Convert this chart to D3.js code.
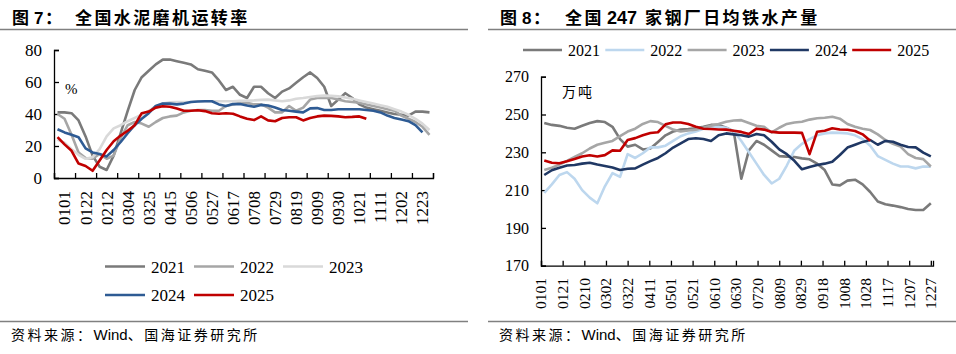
<!DOCTYPE html>
<html>
<head>
<meta charset="utf-8">
<script src="https://cdn.jsdelivr.net/npm/d3@7"></script>
<style>
  body { margin: 0; background: #fff; }
  svg text { fill: #000; }
</style>
</head>
<body>
<svg id="chart" width="956" height="354"></svg>
<script>
// ---- left chart: cement mill operating rate (%), weekly ----
const cementTicks = ["0101","0122","0212","0304","0325","0415","0506","0527","0617",
                     "0708","0729","0819","0909","0930","1021","1111","1202","1223"];
const cement2021 = [41,41,40.5,36,26,14,7,5,14,28,42,55,63,67,71,74,74,73,72,71,68,67,66,61,
                    55,57,52,50,57,57,53,50,54,56,59.5,63,66,62.5,57,45,49,53,50,46,44,43,42,41,
                    40,39.5,39,41.5,41.5,41];
const cement2022 = [40,37,27,16,12.5,12,15,12,14,25,33,35,34,32,35,37.5,38.5,39,41,42,42.5,42.5,
                    42,42,45,46,47,47,46,46,44,41,41,45,42,44,49,50,50,50,49,48,47.5,47,46,45,44,
                    43,42,39,37,35,32,27];
const cement2023 = [24,22,18,14.5,12,13,18,26,31,33,35.5,37.5,39.5,42,45,46.5,47.3,47.5,47.5,47.5,
                    48,48,48,48,48,48,48.2,48.3,48.5,48.8,49,48.5,48,48.5,49.5,50,50.6,51.2,51.5,
                    51.3,51,50.3,49.5,48.5,47.5,46.5,45.5,44.5,43,41.5,39.5,37,34,30];
const cement2024 = [30.5,28.5,27,25.5,18.5,16,15,13.5,17.5,22.5,28,33,37,40.5,45,46.5,46.5,46,46.5,
                    47.5,47.8,48,48,46,45,46.2,46.2,45.3,44.5,45.7,45.3,44,42.5,42,41.5,41,43.5,
                    43.7,42.5,42.5,43,43,43,43,42.5,42,41,39,37.5,36.5,35.5,33,28.5];
const cement2025 = [25.5,21,17,9,7.5,4.5,11,17.5,23,26.5,29.5,33,40.5,41.5,44,44.8,44.5,43.5,42,42,
                    42.3,41.8,40.5,40.2,40.5,40.2,38.5,37,36.2,38.5,36,35.5,37.5,38,38,36,37.5,
                    38.5,39,38.8,38.5,38,38.2,38.5,37];

// ---- right chart: 247 steel mills daily hot metal output (10k t), weekly ----
const ironTicks = ["0101","0121","0210","0302","0322","0411","0501","0521","0610","0630",
                   "0720","0809","0829","0918","1008","1028","1117","1207","1227"];
const iron2021 = [245.5,244.5,244,243,242.5,244,245.5,246.5,246,243.5,237,233,234,231.5,232,235.5,239,
                  241,242,242.3,242.7,243.5,244.5,244.5,243,241,216,231,236,234,231,228,227.7,
                  227.5,226.8,226.3,224,220.6,213,212.5,215,215.5,213,209,204,202.5,201.8,201,
                  200,199.5,199.5,203];
const iron2022 = [208.5,213,218,219.5,216,210,206,203,212,219,217,229,227,229.5,232.6,232.6,233.5,
                  236,238.5,240,241,242.5,243.3,243.5,243,241,236,230,224,218,213.5,216,223,231,
                  234.5,237,239,240,240.4,240.3,240,239,237,233.5,228,226,224,222.5,222.5,221.5,
                  222.5,222.4];
const iron2023 = [220.6,221.8,223.5,225.5,227.5,229.5,232,234,235,236,238.6,241,242.5,245,246.5,246,
                  244,242,241,241.5,242,243,244,245,246.2,246.8,247,245.5,244,243.5,240.5,243,245,
                  245.8,246.2,247.3,248,248.3,248.8,247.8,245,243.5,242.5,241.8,239.5,236.5,234.5,
                  233,229,227,226.4,222.5];
const iron2024 = [218,220.5,221.8,223,223.3,224,224.5,223.5,222.8,222,220.6,221.3,221.5,223.5,225.3,
                  227,229.5,232.5,234.7,237,237.4,237,236,239,240,239.5,239,238.3,239.7,239,235.6,
                  231.5,229,225.5,221,222.2,223.3,224,225,228.6,232.5,234,235.5,236.5,234,236,
                  235.6,234,232.8,232.6,229.8,227.8];
const iron2025 = [225.7,224.5,224.2,225.3,226.5,227.8,228.4,227.8,228.5,231,230.8,236.5,237.5,239,
                  240.2,240.6,244.8,245.8,245.8,245,243.5,242.5,242.3,242.1,242,241.4,240.8,239.7,
                  242.5,242,240.8,240.4,240.4,240.4,240.3,229,240.9,241.4,242.7,242.1,241.9,241.3,
                  239.5,236.1];

const years = ["2021","2022","2023","2024","2025"];
const cementColors = ["#7a7a7a","#a6a6a6","#d9d9d9","#2e5b94","#c00000"];
const ironColors = ["#7a7a7a","#bdd7ee","#a6a6a6","#203864","#c00000"];

const serif = "'Liberation Serif','Times New Roman',serif";
const cjk = "'Noto Sans CJK SC',sans-serif";
const sans = "'Liberation Sans',Arial,sans-serif";

const svg = d3.select("#chart");

// ---------- headers / rules / source ----------
function header(x0, x1, parts) {
    parts.forEach(p => {
        svg.append("text")
        .attr("x", p.x).attr("y", 24)
        .attr("font-family", p.font)
        .attr("font-size", p.size)
        .attr("font-weight", "bold")
        .attr("letter-spacing", p.ls || 0)
        .text(p.t);
    });
    svg.append("line").attr("x1", x0).attr("x2", x1).attr("y1", 29.5).attr("y2", 29.5)
    .attr("stroke", "#808080").attr("stroke-width", 1.5);
    svg.append("line").attr("x1", x0).attr("x2", x1).attr("y1", 321.5).attr("y2", 321.5)
    .attr("stroke", "#808080").attr("stroke-width", 1.5);
    const src = svg.append("text")
    .attr("x", x0 + 11).attr("y", 340)
    .attr("font-family", cjk).attr("font-size", 14);
    src.append("tspan").attr("letter-spacing", 2.5).text("资料来源：");
    src.append("tspan").attr("font-family", sans).attr("font-size", 15).text("Wind");
    src.append("tspan").attr("letter-spacing", 2.5).text("、国海证券研究所");
}

header(0, 468, [
    {x: 12, t: "图", font: cjk, size: 17},
    {x: 34, t: "7", font: sans, size: 17},
    {x: 45, t: "：", font: cjk, size: 17},
    {x: 75, t: "全国水泥磨机运转率", font: cjk, size: 17, ls: 2.4}
]);
header(488, 956, [
    {x: 500, t: "图", font: cjk, size: 17},
    {x: 522, t: "8", font: sans, size: 17},
    {x: 533, t: "：", font: cjk, size: 17},
    {x: 565, t: "全国", font: cjk, size: 17, ls: 2.4},
    {x: 607, t: "247", font: sans, size: 18},
    {x: 645, t: "家钢厂日均铁水产量", font: cjk, size: 17, ls: 2.4}
]);

// ---------- left chart ----------
const xL = d3.scaleLinear().domain([0, 54]).range([54, 433]);
const yL = d3.scaleLinear().domain([0, 80]).range([178, 50]);

const gL = svg.append("g");

gL.append("g")
.attr("transform", "translate(54,0)")
.call(d3.axisLeft(yL).tickValues([0,20,40,60,80]).tickSize(-5).tickPadding(12).tickFormat(d3.format("d")))
.call(g => g.selectAll("text").attr("font-family", serif).attr("font-size", 17).attr("fill", "#000"))
.call(g => g.selectAll("line,path").attr("stroke", "#000").attr("stroke-width", 1.3));

gL.append("g")
.attr("transform", "translate(0,178)")
.call(d3.axisBottom(xL).tickValues(d3.range(0, 55, 3)).tickSize(-5).tickFormat(""))
.call(g => g.selectAll("line,path").attr("stroke", "#000").attr("stroke-width", 1.3));

// labels sit in the middle of each 3-week span
gL.selectAll(".xlab")
.data(cementTicks)
.enter().append("text")
.attr("transform", (d, i) => `translate(${xL(i * 3 + 1.5)},${191}) rotate(-90)`)
.attr("text-anchor", "end")
.attr("dy", "0.35em")
.attr("font-family", serif).attr("font-size", 17)
.text(d => d);

gL.append("text").attr("x", 65).attr("y", 94)
.attr("font-family", serif).attr("font-size", 15).text("%");

const lineL = d3.line().x((d, i) => xL(i + 0.5)).y(d => yL(d));
[cement2021, cement2022, cement2023, cement2024, cement2025].forEach((s, k) => {
    gL.append("path").datum(s)
    .attr("fill", "none").attr("stroke", cementColors[k]).attr("stroke-width", 2.6)
    .attr("stroke-linejoin", "round")
    .attr("d", lineL);
});

// legend, two rows
const legL = [[105, 266.5], [194, 266.5], [283, 266.5], [105, 295], [194, 295]];
years.forEach((y, k) => {
    const [lx, ly] = legL[k];
    gL.append("line").attr("x1", lx).attr("x2", lx + 40).attr("y1", ly).attr("y2", ly)
    .attr("stroke", cementColors[k]).attr("stroke-width", 2.6);
    gL.append("text").attr("x", lx + 46).attr("y", ly + 6)
    .attr("font-family", serif).attr("font-size", 17).text(y);
});

// ---------- right chart ----------
const xR = d3.scaleLinear().domain([0, 362]).range([541, 933]);
const yR = d3.scaleLinear().domain([170, 270]).range([265.7, 76.7]);

const gR = svg.append("g");

gR.append("g")
.attr("transform", "translate(541,0)")
.call(d3.axisLeft(yR).tickValues([170,190,210,230,250,270]).tickSize(-5).tickPadding(12).tickFormat(d3.format("d")))
.call(g => g.selectAll("text").attr("font-family", serif).attr("font-size", 16).attr("fill", "#000"))
.call(g => g.selectAll("line,path").attr("stroke", "#000").attr("stroke-width", 1.3));

gR.append("g")
.attr("transform", "translate(0,265.7)")
.call(d3.axisBottom(xR).tickValues(d3.range(0, 361, 20)).tickSize(-5).tickFormat(""))
.call(g => g.selectAll("line,path").attr("stroke", "#000").attr("stroke-width", 1.3));

gR.selectAll(".xlab")
.data(ironTicks)
.enter().append("text")
.attr("transform", (d, i) => `translate(${xR(i * 20)},${278}) rotate(-90)`)
.attr("text-anchor", "end")
.attr("dy", "0.35em")
.attr("font-family", serif).attr("font-size", 15.5)
.text(d => d);

gR.append("text").attr("x", 562).attr("y", 97)
.attr("font-family", cjk).attr("font-size", 14).attr("letter-spacing", 2).text("万吨");

const lineR = d3.line().x((d, i) => xR(3 + i * 7)).y(d => yR(d));
[iron2021, iron2022, iron2023, iron2024, iron2025].forEach((s, k) => {
    gR.append("path").datum(s)
    .attr("fill", "none").attr("stroke", ironColors[k]).attr("stroke-width", 2.6)
    .attr("stroke-linejoin", "round")
    .attr("d", lineR);
});

// legend, one row
years.forEach((y, k) => {
    const lx = 523 + k * 82.3;
    gR.append("line").attr("x1", lx).attr("x2", lx + 39).attr("y1", 50).attr("y2", 50)
    .attr("stroke", ironColors[k]).attr("stroke-width", 2.6);
    gR.append("text").attr("x", lx + 45).attr("y", 55.5)
    .attr("font-family", serif).attr("font-size", 16).text(y);
});
</script>
</body>
</html>
